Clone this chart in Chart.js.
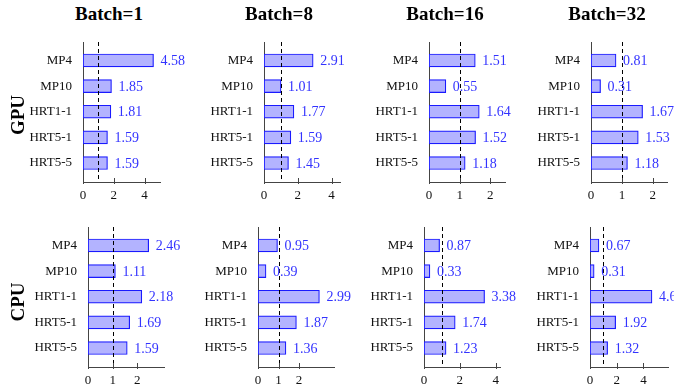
<!DOCTYPE html>
<html>
<head>
<meta charset="utf-8">
<script src="https://cdn.jsdelivr.net/npm/chart.js@4.4.0/dist/chart.umd.min.js"></script>
<style>
  body { margin: 0; background: #fff; width: 674px; height: 389px; overflow: hidden; position: relative; }
  .panel { position: absolute; }
  .title { position: absolute; font: bold 19px "Liberation Serif", serif; color: #000; transform: translateX(-50%); white-space: nowrap; }
  .row { position: absolute; font: bold 19px "Liberation Serif", serif; color: #000; transform: translate(-50%, -50%) rotate(-90deg); white-space: nowrap; }
</style>
</head>
<body>
<script>
// chart data
var categories = ['MP4', 'MP10', 'HRT1-1', 'HRT5-1', 'HRT5-5'];
var batches = ['Batch=1', 'Batch=8', 'Batch=16', 'Batch=32'];
var devices = ['GPU', 'CPU'];

var gpuBatch1 = [4.58, 1.85, 1.81, 1.59, 1.59];
var gpuBatch8 = [2.91, 1.01, 1.77, 1.59, 1.45];
var gpuBatch16 = [1.51, 0.55, 1.64, 1.52, 1.18];
var gpuBatch32 = [0.81, 0.31, 1.67, 1.53, 1.18];

var cpuBatch1 = [2.46, 1.11, 2.18, 1.69, 1.59];
var cpuBatch8 = [0.95, 0.39, 2.99, 1.87, 1.36];
var cpuBatch16 = [0.87, 0.33, 3.38, 1.74, 1.23];
var cpuBatch32 = [0.67, 0.31, 4.64, 1.92, 1.32];

var gpuXMax = [5.0, 4.5, 2.48, 2.46];
var cpuXMax = [3.08, 3.7, 4.24, 5.84];
var gpuXTicks = [[0, 2, 4], [0, 2, 4], [0, 1, 2], [0, 1, 2]];
var cpuXTicks = [[0, 1, 2], [0, 1, 2], [0, 2, 4], [0, 2, 4]];
var baseline = 1;

// layout (pixel positions of each plot area)
var axisLeft = [[83, 264, 429, 591], [88, 258, 424, 590]];
var axisWidth = [[77, 76, 76, 76], [76, 76, 76, 78]];
var axisTop = [42, 227];
var axisHeight = 140;
var labelSpace = 80, rightSpace = 44, bottomSpace = 26;
var titleX = [109, 279, 445, 607];
var rowY = [115, 302];

var rows = [
    { values: [gpuBatch1, gpuBatch8, gpuBatch16, gpuBatch32], xmax: gpuXMax, xticks: gpuXTicks },
    { values: [cpuBatch1, cpuBatch8, cpuBatch16, cpuBatch32], xmax: cpuXMax, xticks: cpuXTicks }
];

Chart.defaults.font.family = '"Liberation Serif", serif';
Chart.defaults.color = '#222';

// dashed reference line at x = 1
var refLine = {
    id: 'refLine',
    afterDatasetsDraw: function (chart) {
        var ctx = chart.ctx, area = chart.chartArea;
        var x = Math.round(chart.scales.x.getPixelForValue(baseline)) + 0.5;
        ctx.save();
        ctx.strokeStyle = '#000';
        ctx.lineWidth = 1;
        ctx.setLineDash([4, 3]);
        ctx.beginPath();
        ctx.moveTo(x, area.top);
        ctx.lineTo(x, area.bottom);
        ctx.stroke();
        ctx.restore();
    }
};

// tick marks pointing into the plot
var innerTicks = {
    id: 'innerTicks',
    afterDraw: function (chart) {
        var ctx = chart.ctx, sx = chart.scales.x, bottom = chart.chartArea.bottom;
        ctx.save();
        ctx.strokeStyle = '#444';
        ctx.lineWidth = 1;
        sx.ticks.forEach(function (t) {
            var x = Math.round(sx.getPixelForValue(t.value)) + 0.5;
            ctx.beginPath();
            ctx.moveTo(x, bottom - 4);
            ctx.lineTo(x, bottom + 2);
            ctx.stroke();
        });
        ctx.restore();
    }
};

// numbers next to the bars
var valueLabels = {
    id: 'valueLabels',
    afterDraw: function (chart) {
        var ctx = chart.ctx;
        var meta = chart.getDatasetMeta(0);
        var data = chart.data.datasets[0].data;
        ctx.save();
        ctx.fillStyle = '#3333ff';
        ctx.font = '14px "Liberation Serif", serif';
        ctx.textAlign = 'left';
        ctx.textBaseline = 'middle';
        meta.data.forEach(function (bar, i) {
            ctx.fillText(data[i].x.toFixed(2), bar.x + 7, bar.y + 1);
        });
        ctx.restore();
    }
};

function makePanel(r, c) {
    var values = rows[r].values[c];
    var ticks = rows[r].xticks[c];
    var w = labelSpace + axisWidth[r][c] + rightSpace;
    var h = axisHeight + bottomSpace;

    var div = document.createElement('div');
    div.className = 'panel';
    div.style.left = (axisLeft[r][c] - labelSpace) + 'px';
    div.style.top = axisTop[r] + 'px';
    div.style.width = w + 'px';
    div.style.height = h + 'px';
    var canvas = document.createElement('canvas');
    div.appendChild(canvas);
    document.body.appendChild(div);

    new Chart(canvas.getContext('2d'), {
        type: 'bar',
        data: {
            datasets: [{
                data: values.map(function (v, i) { return { x: v, y: i }; }),
                backgroundColor: '#b3b3ff',
                borderColor: '#1a1aff',
                borderWidth: 1.2,
                borderSkipped: false,
                barThickness: 13
            }]
        },
        options: {
            indexAxis: 'y',
            responsive: true,
            maintainAspectRatio: false,
            animation: false,
            layout: { padding: { left: 0, right: rightSpace, top: 0, bottom: 0 } },
            plugins: { legend: { display: false }, tooltip: { enabled: false } },
            scales: {
                y: {
                    type: 'linear',
                    reverse: true,
                    offset: false,
                    min: -0.72,
                    max: 4.74,
                    afterBuildTicks: function (scale) {
                        scale.ticks = categories.map(function (n, i) { return { value: i }; });
                    },
                    afterFit: function (scale) {
                        scale.width = labelSpace;
                        scale.paddingTop = 0;
                        scale.paddingBottom = 0;
                    },
                    grid: { display: false, drawTicks: false, tickLength: 0 },
                    border: { display: true, color: '#444', width: 1 },
                    ticks: {
                        padding: 11,
                        color: '#111',
                        font: { size: 13 },
                        callback: function (v) { return categories[v]; }
                    }
                },
                x: {
                    type: 'linear',
                    min: 0,
                    max: rows[r].xmax[c],
                    afterBuildTicks: function (scale) {
                        scale.ticks = ticks.map(function (v) { return { value: v }; });
                    },
                    afterFit: function (scale) {
                        scale.height = bottomSpace;
                        scale.paddingLeft = 0;
                        scale.paddingRight = 0;
                    },
                    grid: { display: false, drawTicks: false, tickLength: 0 },
                    border: { display: true, color: '#444', width: 1 },
                    ticks: { padding: 6, color: '#111', font: { size: 13 } }
                }
            }
        },
        plugins: [refLine, innerTicks, valueLabels]
    });
}

for (var r = 0; r < rows.length; r++) {
    for (var c = 0; c < batches.length; c++) {
        makePanel(r, c);
    }
}

batches.forEach(function (b, i) {
    var t = document.createElement('div');
    t.className = 'title';
    t.textContent = b;
    t.style.left = titleX[i] + 'px';
    t.style.top = '3px';
    document.body.appendChild(t);
});

devices.forEach(function (d, i) {
    var t = document.createElement('div');
    t.className = 'row';
    t.textContent = d;
    t.style.left = '18px';
    t.style.top = rowY[i] + 'px';
    document.body.appendChild(t);
});
</script>
</body>
</html>
